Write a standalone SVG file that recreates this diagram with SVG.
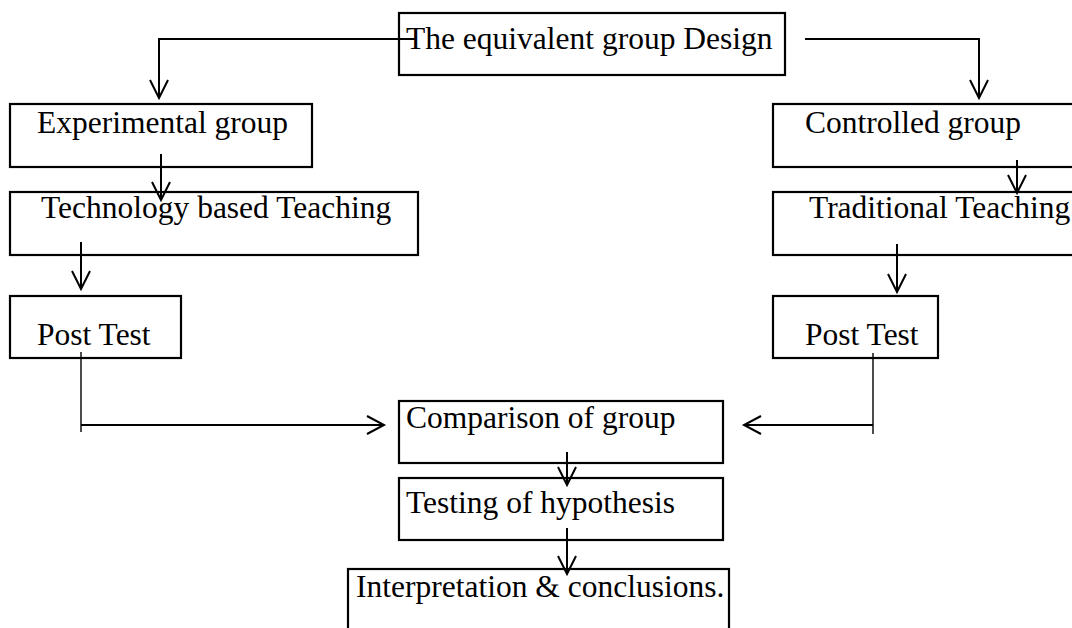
<svg xmlns="http://www.w3.org/2000/svg" width="1072" height="628" viewBox="0 0 1072 628">
<style>
.box{fill:#fff;stroke:#000;stroke-width:2.2}
.t{font-family:"Liberation Serif","Times New Roman",serif;font-size:31.5px;fill:#000}
.c{fill:none;stroke:#000;stroke-width:2}
.thin{fill:none;stroke:#000;stroke-width:1.4}
</style>
<rect width="1072" height="628" fill="#fff"/>
<g id="n-design"><rect class="box" x="399" y="13" width="386" height="62"/><text class="t" x="406" y="49">The equivalent group Design</text></g>
<g id="n-exp"><rect class="box" x="10" y="104" width="302" height="63"/><text class="t" x="37" y="133">Experimental group</text></g>
<g id="n-tech"><rect class="box" x="10" y="192" width="408" height="63"/><text class="t" x="41" y="218">Technology based Teaching</text></g>
<g id="n-post1"><rect class="box" x="10" y="296" width="171" height="62"/><text class="t" x="37" y="345">Post Test</text></g>
<g id="n-ctrl"><rect class="box" x="773" y="104" width="320" height="63"/><text class="t" x="805" y="133">Controlled group</text></g>
<g id="n-trad"><rect class="box" x="773" y="192" width="320" height="63"/><text class="t" x="809" y="218">Traditional Teaching</text></g>
<g id="n-post2"><rect class="box" x="773" y="296" width="165" height="62"/><text class="t" x="805" y="345">Post Test</text></g>
<g id="n-comp"><rect class="box" x="399" y="401" width="324" height="62"/><text class="t" x="406" y="428">Comparison of group</text></g>
<g id="n-test"><rect class="box" x="399" y="478" width="324" height="62"/><text class="t" x="406" y="513">Testing of hypothesis</text></g>
<g id="n-interp"><rect class="box" x="348" y="569" width="381" height="80"/><text class="t" x="356" y="597">Interpretation &amp; conclusions.</text></g>
<g id="connectors">
<polyline class="c" points="416,39 159,39 159,98"/>
<polyline class="c" points="150,80 159,98 168,80"/>
<polyline class="c" points="805,39 979,39 979,98"/>
<polyline class="c" points="970,80 979,98 988,80"/>
<line class="c" x1="161" y1="154" x2="161" y2="200"/>
<polyline class="c" points="152,182 161,200 170,182"/>
<line class="c" x1="81" y1="242" x2="81" y2="289"/>
<polyline class="c" points="72,271 81,289 90,271"/>
<line class="c" x1="1017" y1="160" x2="1017" y2="193"/>
<polyline class="c" points="1008,175 1017,193 1026,175"/>
<line class="c" x1="897" y1="244" x2="897" y2="292"/>
<polyline class="c" points="888,274 897,292 906,274"/>
<line class="thin" x1="81" y1="352" x2="81" y2="432"/>
<line class="c" x1="81" y1="425" x2="384" y2="425"/>
<polyline class="c" points="367,416 384,425 367,434"/>
<line class="thin" x1="873" y1="353" x2="873" y2="434"/>
<line class="c" x1="873" y1="425" x2="744" y2="425"/>
<polyline class="c" points="761,416 744,425 761,434"/>
<line class="c" x1="567" y1="452" x2="567" y2="485"/>
<polyline class="c" points="558,467 567,485 576,467"/>
<line class="c" x1="567" y1="528" x2="567" y2="574"/>
<polyline class="c" points="558,556 567,574 576,556"/>
</g>
</svg>
